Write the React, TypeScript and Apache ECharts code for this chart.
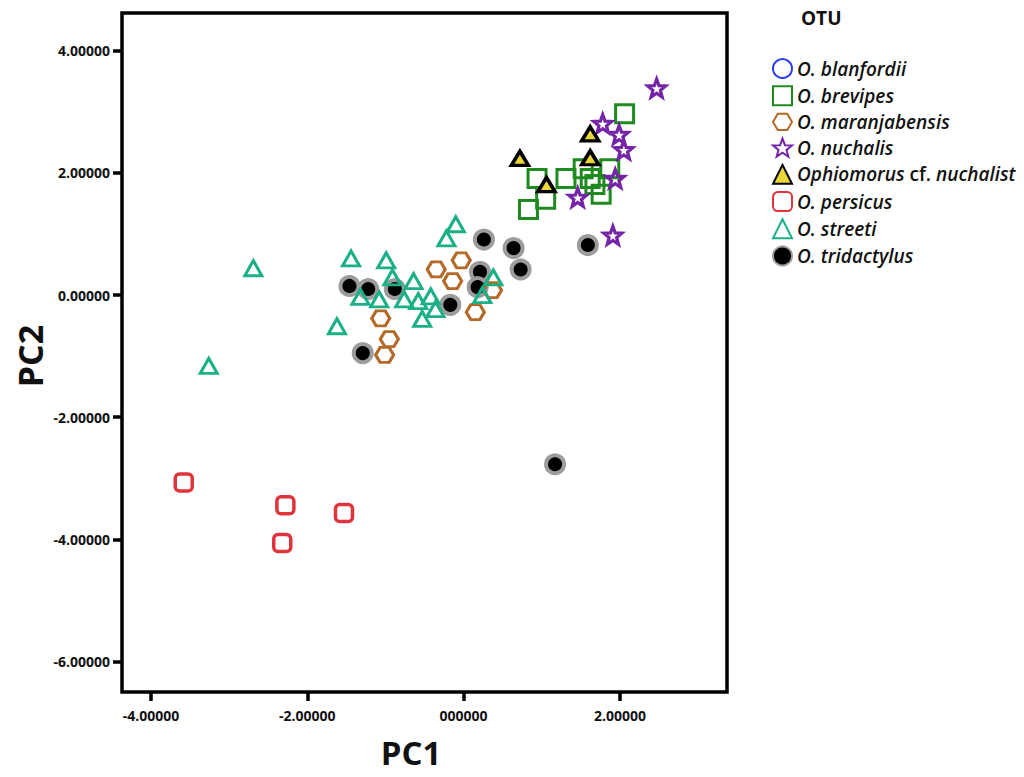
import React, { useEffect, useRef } from 'react';
import * as echarts from 'echarts';

// ---- data (PC1, PC2) ----
const blanfordii: number[][] = [];
const brevipes: number[][] = [
  [2.06, 2.97], [0.94, 1.91], [1.31, 1.91], [1.53, 2.07], [1.87, 2.07],
  [1.62, 1.91], [1.68, 1.81], [1.76, 1.65], [1.05, 1.57], [0.83, 1.40],
];
const maranjabensis: number[][] = [
  [-0.35, 0.42], [-0.03, 0.57], [-0.14, 0.23], [-1.06, -0.38],
  [-0.95, -0.72], [-1.01, -0.98], [0.15, -0.28], [0.37, 0.08],
];
const nuchalis: number[][] = [
  [2.47, 3.39], [1.78, 2.81], [1.99, 2.63], [2.05, 2.38],
  [1.94, 1.91], [1.46, 1.60], [1.91, 0.98],
];
const cfNuchalist: number[][] = [
  [0.72, 2.24], [1.62, 2.64], [1.62, 2.25], [1.06, 1.81],
];
const persicus: number[][] = [
  [-3.58, -3.07], [-2.28, -3.44], [-2.32, -4.06], [-1.53, -3.57],
];
const streeti: number[][] = [
  [-3.26, -1.16], [-2.69, 0.44], [-1.62, -0.51], [-1.44, 0.60], [-1.32, -0.03],
  [-1.08, -0.07], [-0.99, 0.57], [-0.91, 0.29], [-0.76, -0.07], [-0.64, 0.23],
  [-0.58, -0.10], [-0.53, -0.39], [-0.42, -0.02], [-0.36, -0.23], [-0.22, 0.93],
  [-0.10, 1.16], [0.24, 0.00], [0.38, 0.29],
];
const tridactylus: number[][] = [
  [-1.46, 0.15], [-1.22, 0.10], [-0.88, 0.10], [-0.17, -0.16], [0.26, 0.91],
  [0.21, 0.38], [0.18, 0.13], [0.64, 0.77], [0.73, 0.42], [-1.29, -0.95],
  [1.59, 0.82], [1.17, -2.77],
];

const legendNames = [
  'O. blanfordii', 'O. brevipes', 'O. maranjabensis', 'O. nuchalis',
  'Ophiomorus cf. nuchalist', 'O. persicus', 'O. streeti', 'O. tridactylus',
];

const xTicks = [-4, -2, 0, 2];
const xTickLabels = ['-4.00000', '-2.00000', '000000', '2.00000'];
const yTicks = [-6, -4, -2, 0, 2, 4];
const yTickLabels = ['-6.00000', '-4.00000', '-2.00000', '0.00000', '2.00000', '4.00000'];

const FONT = '"Open Sans", "Noto Sans", sans-serif';

const HEX = 'path://M25 0 L75 0 L100 43 L75 86 L25 86 L0 43 Z';
const STAR =
  'path://M50 0 L62.34 33.01 L97.55 34.55 L69.97 56.49 L79.39 90.45 L50 71 L20.61 90.45 L30.03 56.49 L2.45 34.55 L37.66 33.01 Z';

export default function App() {
  const ref = useRef<HTMLDivElement>(null);
  useEffect(() => {
    if (!ref.current) return;
    const chart = echarts.init(ref.current, undefined, { renderer: 'svg' });
    const hollow = 'rgba(255,255,255,0)';
    const tickLabel = { fontFamily: FONT, fontSize: 14, fontWeight: 'bold', color: '#111' };
    const rich = (style: string) => ({
      fontFamily: FONT, fontSize: 19, fontWeight: 600, fontStyle: style, color: '#111', lineHeight: 19,
    });
    const option: any = {
      animation: false,
      backgroundColor: '#fff',
      grid: {
        left: 122, right: 297, top: 13, bottom: 85,
        show: true, borderColor: '#000', borderWidth: 3.5,
      },
      xAxis: {
        type: 'value', min: -4.37, max: 3.37,
        axisLine: { show: false, onZero: false },
        splitLine: { show: false },
        axisTick: { show: true, customValues: xTicks, length: 9, lineStyle: { width: 3.5, color: '#000' } },
        axisLabel: {
          customValues: xTicks,
          formatter: (v: number) => xTickLabels[xTicks.indexOf(Math.round(v))] ?? '',
          margin: 16, ...tickLabel,
        },
      },
      yAxis: {
        type: 'value', min: -6.5, max: 4.62,
        axisLine: { show: false, onZero: false },
        splitLine: { show: false },
        axisTick: { show: true, customValues: yTicks, length: 9, lineStyle: { width: 3.5, color: '#000' } },
        axisLabel: {
          customValues: yTicks,
          formatter: (v: number) => yTickLabels[yTicks.indexOf(Math.round(v))] ?? '',
          margin: 12, ...tickLabel,
        },
      },
      legend: {
        data: legendNames,
        orient: 'vertical',
        left: 772, top: 58, padding: 0,
        itemWidth: 19, itemHeight: 19, itemGap: 6.2,
        selectedMode: false,
        formatter: (name: string) =>
          name === 'Ophiomorus cf. nuchalist'
            ? '{i|Ophiomorus} {n|cf.} {i|nuchalist}'
            : '{i|' + name + '}',
        textStyle: {
          fontFamily: FONT, fontSize: 19, fontWeight: 600, color: '#111', lineHeight: 19,
          rich: { i: rich('italic'), n: rich('normal') },
        },
      },
      graphic: [
        { type: 'text', left: 801, top: 8, style: { text: 'OTU', font: `bold 19px ${FONT}`, fill: '#111' } },
        { type: 'text', x: 411, y: 752, style: { text: 'PC1', font: `bold 33px ${FONT}`, fill: '#111', align: 'center', verticalAlign: 'middle' } },
        { type: 'text', x: 30, y: 356, rotation: Math.PI / 2, style: { text: 'PC2', font: `bold 34px ${FONT}`, fill: '#111', align: 'center', verticalAlign: 'middle' } },
      ],
      series: [
        {
          name: 'O. blanfordii', type: 'scatter', data: blanfordii, symbol: 'circle', symbolSize: 17,
          itemStyle: { color: hollow, borderColor: '#2a3cf0', borderWidth: 2.5, opacity: 1 },
        },
        {
          name: 'O. tridactylus', type: 'scatter', data: tridactylus, symbol: 'circle', symbolSize: 18,
          itemStyle: { color: '#000', borderColor: '#9c9c9c', borderWidth: 4, opacity: 1 },
        },
        {
          name: 'O. brevipes', type: 'scatter', data: brevipes, symbol: 'rect', symbolSize: 18,
          itemStyle: { color: hollow, borderColor: '#1f8a1f', borderWidth: 3, opacity: 1 },
        },
        {
          name: 'O. maranjabensis', type: 'scatter', data: maranjabensis, symbol: HEX, symbolSize: [18, 15],
          itemStyle: { color: hollow, borderColor: '#b36a28', borderWidth: 3, opacity: 1 },
        },
        {
          name: 'O. nuchalis', type: 'scatter', data: nuchalis, symbol: STAR, symbolSize: 18,
          itemStyle: { color: hollow, borderColor: '#7424a6', borderWidth: 3.2, opacity: 1 },
        },
        {
          name: 'O. persicus', type: 'scatter', data: persicus, symbol: 'roundRect', symbolSize: 17,
          itemStyle: { color: hollow, borderColor: '#e0343c', borderWidth: 3.5, opacity: 1 },
        },
        {
          name: 'O. streeti', type: 'scatter', data: streeti, symbol: 'triangle', symbolSize: [17, 15],
          itemStyle: { color: hollow, borderColor: '#1cb088', borderWidth: 3, opacity: 1 },
        },
        {
          name: 'Ophiomorus cf. nuchalist', type: 'scatter', data: cfNuchalist, symbol: 'triangle', symbolSize: [17, 14],
          itemStyle: { color: '#ecd53a', borderColor: '#000', borderWidth: 3.5, opacity: 1 },
        },
      ],
    };
    chart.setOption(option);
    return () => chart.dispose();
  }, []);
  return <div ref={ref} style={{ width: 1024, height: 777, position: 'absolute', left: 0, top: 0 }} />;
}
